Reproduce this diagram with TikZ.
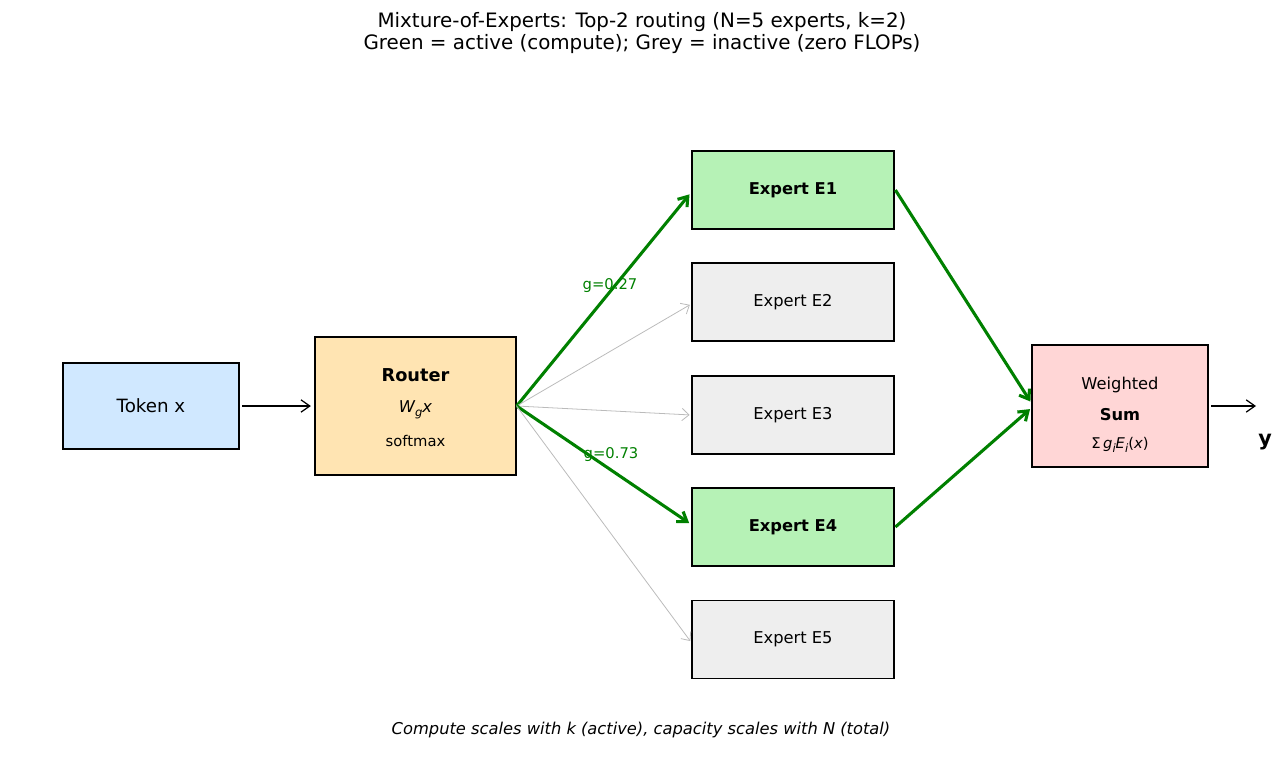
\documentclass[tikz,border=0pt]{standalone}
\usepackage{fontspec}
\setmainfont{DejaVu Sans}
\usetikzlibrary{arrows.meta}
\definecolor{tokenblue}{HTML}{D0E8FF}
\definecolor{routerorange}{HTML}{FFE4B2}
\definecolor{activegreen}{HTML}{B6F2B6}
\definecolor{idlegrey}{HTML}{EEEEEE}
\definecolor{sumpink}{HTML}{FFD6D6}
\definecolor{routegreen}{HTML}{008000}
\definecolor{coldgrey}{HTML}{BBBBBB}
\newcommand{\fsz}[1]{\fontsize{#1}{1.2\dimexpr#1pt\relax}\selectfont}
\newcommand{\sub}[1]{\raisebox{-0.4ex}{\fontsize{6.6}{7}\selectfont\itshape #1}}

\begin{document}
\begin{tikzpicture}[x=0.02cm,y=-0.02cm,
    box/.style={draw=black,line width=0.75pt,inner sep=0pt,align=center},
    expert/.style={box,fill=idlegrey,minimum width=4.04cm,minimum height=1.56cm,font=\fsz{9.27}},
    active/.style={expert,fill=activegreen,line width=1.6pt,font=\fsz{9.27}\bfseries},
    hot/.style={draw=routegreen,line width=1.75pt,-{Straight Barb[length=5pt,width=7pt]}},
    cold/.style={draw=coldgrey,line width=0.45pt,-{Straight Barb[length=4pt,width=7pt]}},
    plain/.style={line width=0.7pt,-{Straight Barb[length=5pt,width=7pt]}},
    gate/.style={text=routegreen,font=\fsz{8.4}}]
        \useasboundingbox (0,0) rectangle (1284,765);

        \node[align=center,font=\fontsize{11.3}{12.6}\selectfont] (title) at (642,33) {Mixture-of-Experts: Top-2 routing (N=5 experts, k=2)\\Green = active (compute); Grey = inactive (zero FLOPs)};

        \node[box,fill=tokenblue,minimum width=3.52cm,minimum height=1.72cm,font=\fsz{10.4}] (token) at (151,406) {Token x};
        \node[box,fill=routerorange,minimum width=4.02cm,minimum height=2.76cm] (router) at (415.5,406) {};
        \node[font=\fsz{10.1}\bfseries] (routername) at (415.5,375) {Router};
        \node[font=\fsz{9.27}\itshape] (routerform) at (415.5,410) {W\sub{g}x};
        \node[font=\fsz{8.4}] (routersoft) at (415.5,441) {softmax};

        \node[active] (e1) at (793,190) {Expert E1};
        \node[expert] (e2) at (793,302) {Expert E2};
        \node[expert] (e3) at (793,415) {Expert E3};
        \node[active] (e4) at (793,527) {Expert E4};
        \node[expert] (e5) at (793,639.5) {Expert E5};

        \node[box,fill=sumpink,minimum width=3.52cm,minimum height=2.44cm] (sum) at (1120,406) {};
        \node[font=\fsz{9.27}] (sumtop) at (1120,385) {Weighted};
        \node[font=\fsz{9.27}\bfseries] (summid) at (1120,415) {Sum};
        \node[font=\fsz{8.4}] (sumform) at (1120,445) {Σ\,\textit{g\sub{i}E\sub{i}}(\textit{x})};

        \coordinate (out) at (1256,406);
        \node[font=\fsz{11.8}\bfseries] (yout) at (1265,442) {y};

        \draw[plain,shorten <=1.5pt,shorten >=2pt] (token.east) -- (router.west);
        \draw[hot,shorten >=1pt] (router.east) -- ([yshift=-1.7pt]e1.west);
        \draw[cold,shorten >=1pt] (router.east) -- ([yshift=-1.1pt]e2.west);
        \draw[cold,shorten >=1pt] (router.east) -- (e3.west);
        \draw[hot,shorten >=1pt] (router.east) -- ([yshift=1.7pt]e4.west);
        \draw[cold,shorten >=1pt] (router.east) -- ([yshift=-1.7pt]e5.west);
        \draw[hot,shorten >=1pt] (e1.east) -- ([yshift=1.7pt]sum.west);
        \draw[hot,shorten >=1pt] (e4.east) -- ([yshift=-1.1pt]sum.west);
        \draw[plain,shorten <=1.5pt] (sum.east) -- (out);

        \node[gate] (g1) at (610,286) {g=0.27};
        \node[gate] (g4) at (611,455) {g=0.73};

        \node[font=\fsz{9.27}\itshape] (note) at (641,730) {Compute scales with k (active), capacity scales with N (total)};
    \end{tikzpicture}
\end{document}
